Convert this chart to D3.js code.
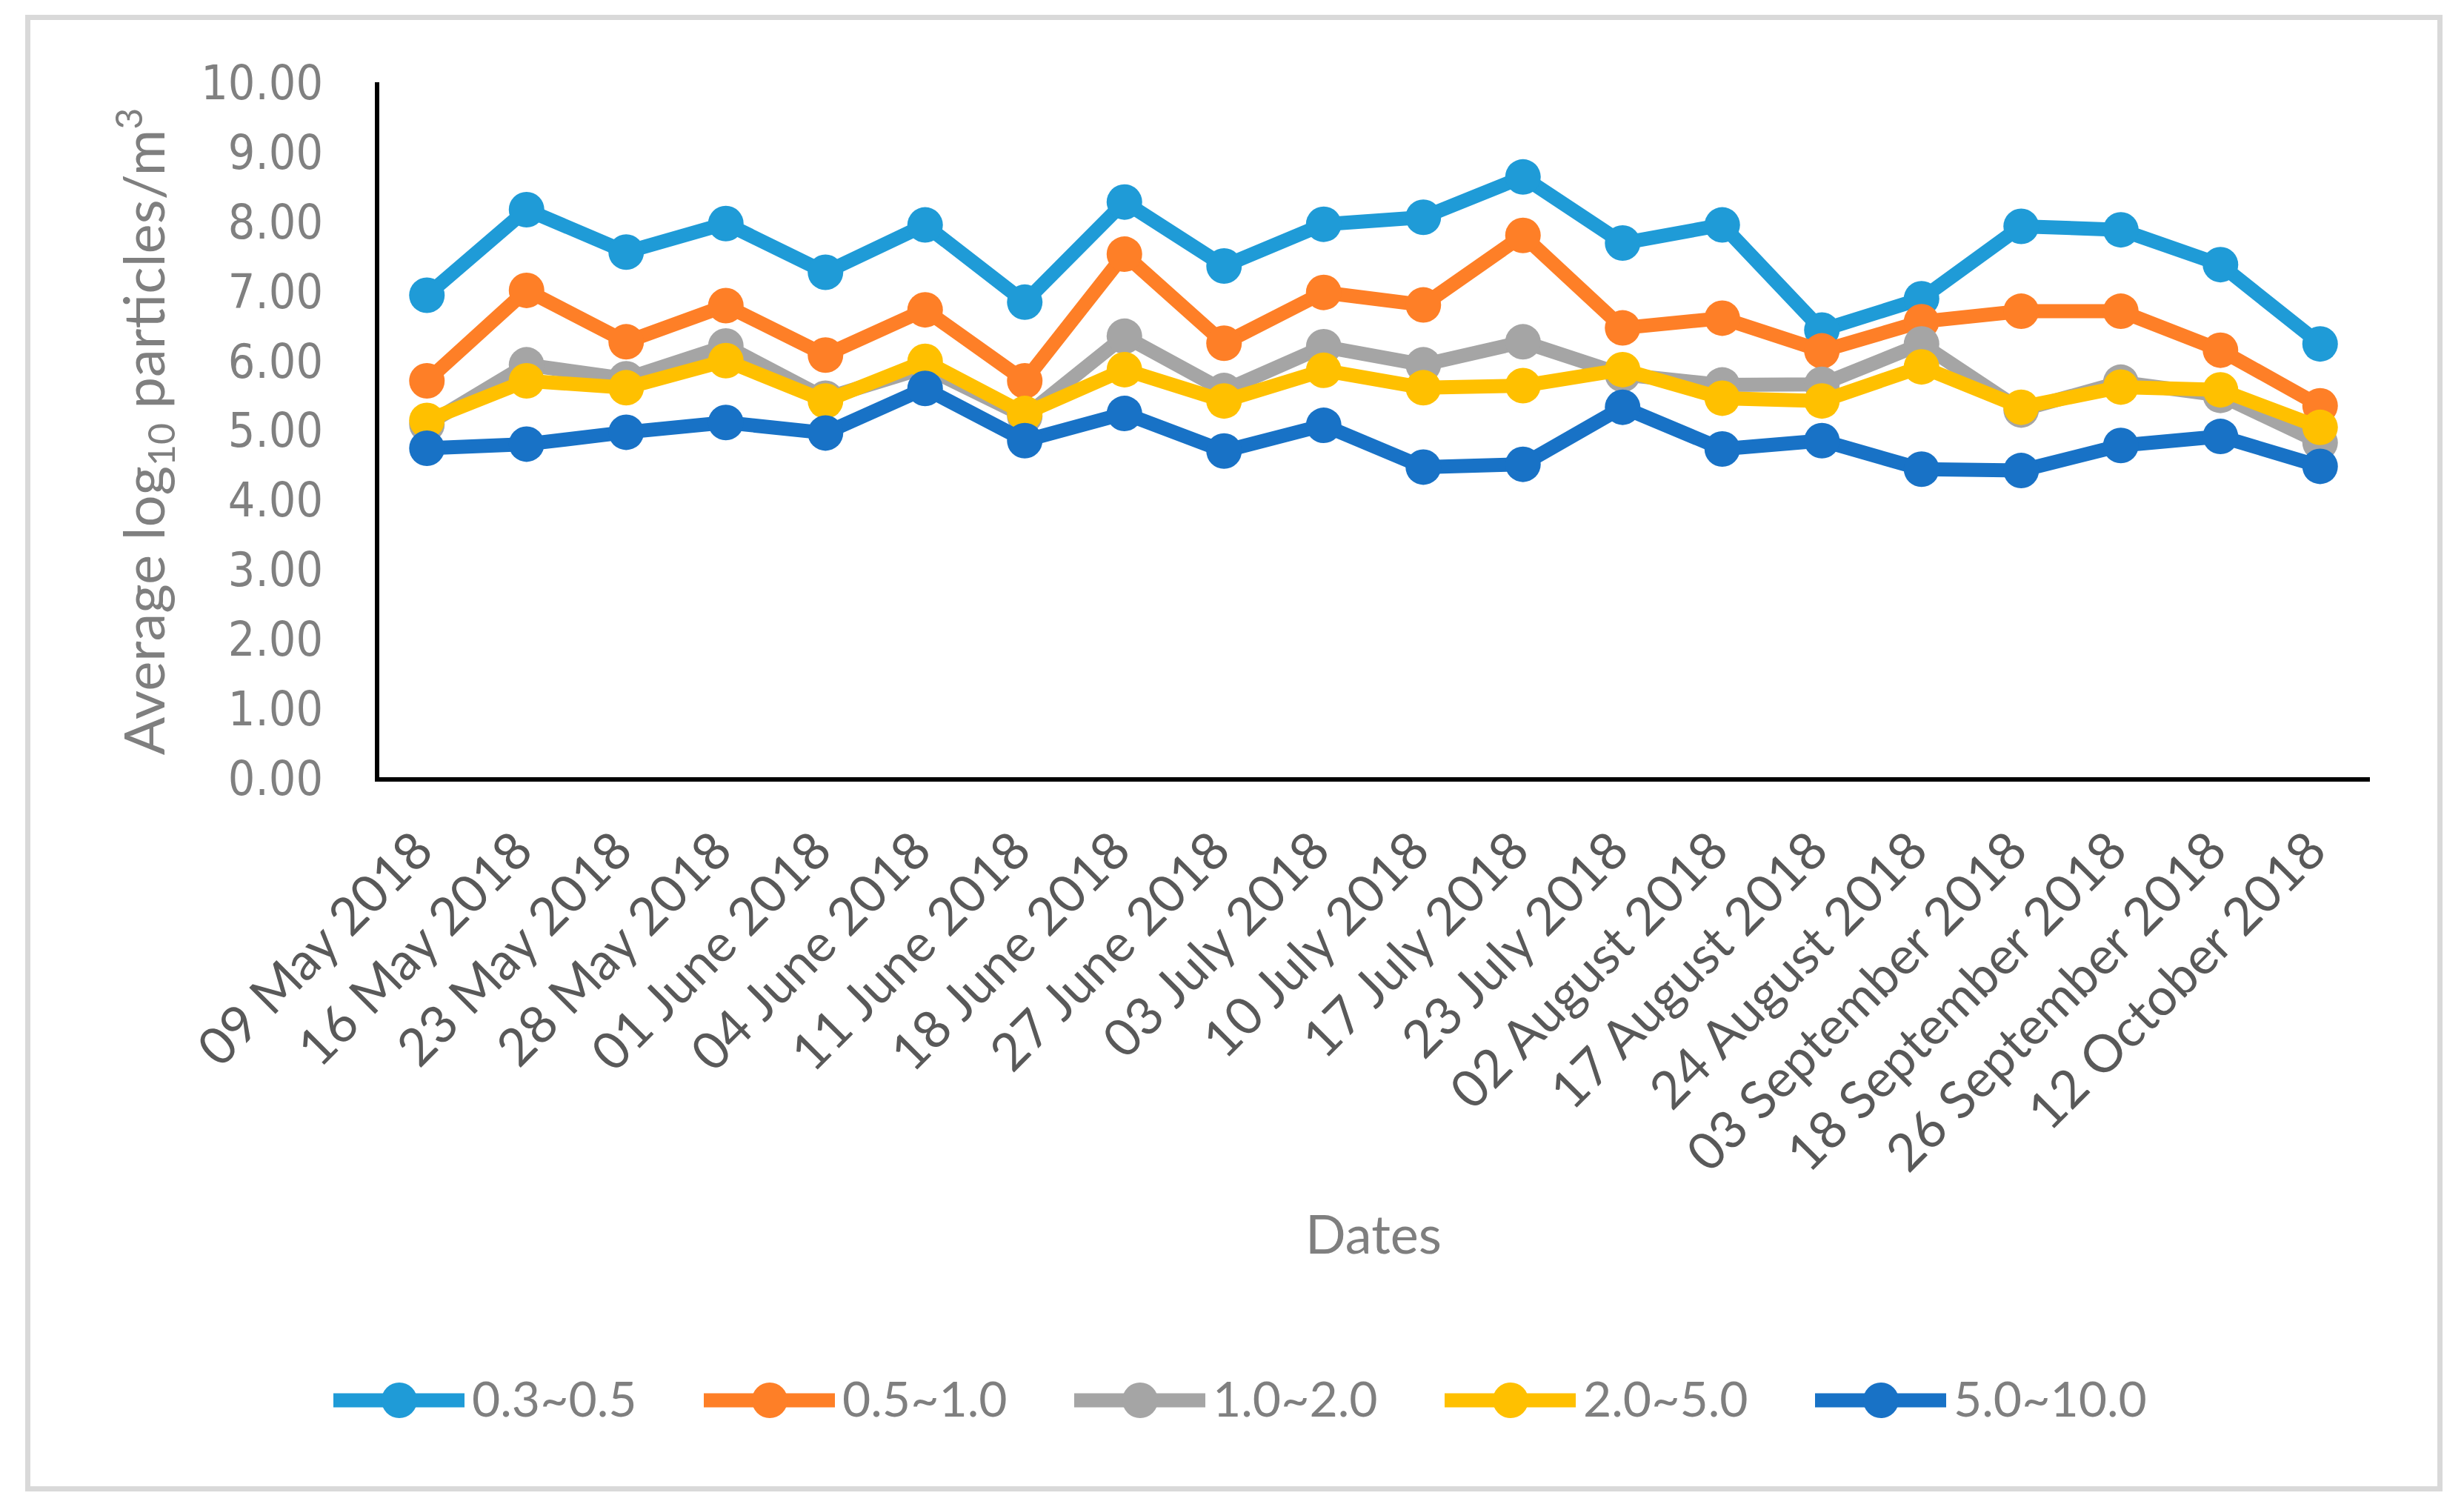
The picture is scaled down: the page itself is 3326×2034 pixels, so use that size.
<!DOCTYPE html>
<html>
<head>
<meta charset="utf-8">
<script src="https://cdn.jsdelivr.net/npm/d3@7/dist/d3.min.js"></script>
<style>
  html, body { margin: 0; padding: 0; background: #fff; }
  svg { display: block; }
</style>
</head>
<body>
<svg id="chart" width="3326" height="2034"></svg>
<script>
// ---- data ----
const dates = ["09 May 2018","16 May 2018","23 May 2018","28 May 2018","01 June 2018","04 June 2018",
  "11 June 2018","18 June 2018","27 June 2018","03 July 2018","10 July 2018","17 July 2018","23 July 2018",
  "02 August 2018","17 August 2018","24 August 2018","03 September 2018","18 September 2018",
  "26 September 2018","12 October 2018"];
const seriesNames = ["0.3~0.5","0.5~1.0","1.0~2.0","2.0~5.0","5.0~10.0"];
const s03_05  = [6.96, 8.19, 7.58, 7.99, 7.29, 7.97, 6.86, 8.30, 7.38, 7.98, 8.08, 8.66, 7.71, 7.97, 6.46, 6.91, 7.95, 7.90, 7.40, 6.26];
const s05_10  = [5.73, 7.03, 6.29, 6.81, 6.10, 6.75, 5.73, 7.55, 6.27, 7.00, 6.82, 7.82, 6.49, 6.63, 6.16, 6.58, 6.73, 6.73, 6.17, 5.37];
const s10_20  = [5.10, 5.96, 5.76, 6.23, 5.48, 5.92, 5.22, 6.37, 5.59, 6.22, 5.96, 6.29, 5.82, 5.67, 5.68, 6.26, 5.31, 5.71, 5.52, 4.84];
const s20_50  = [5.16, 5.73, 5.63, 6.02, 5.44, 6.01, 5.26, 5.89, 5.44, 5.88, 5.63, 5.66, 5.89, 5.48, 5.44, 5.93, 5.35, 5.64, 5.60, 5.06];
const s50_100 = [4.76, 4.82, 4.99, 5.13, 4.98, 5.62, 4.87, 5.26, 4.72, 5.09, 4.49, 4.53, 5.35, 4.75, 4.87, 4.46, 4.44, 4.80, 4.93, 4.50];
const yTicks = [0,1,2,3,4,5,6,7,8,9,10];

const seriesValues = [s03_05, s05_10, s10_20, s20_50, s50_100];
const colors = ["#1F9BD7", "#FE7F27", "#A5A5A5", "#FFC000", "#1872C6"];

// ---- layout ----
const svg = d3.select("#chart");
const plot = { left: 509, right: 3199, top: 113, bottom: 1052 };

svg.append("rect").attr("x", 0).attr("y", 0).attr("width", 3326).attr("height", 2034).attr("fill", "#fff");
// outer border
svg.append("rect").attr("x", 37.5).attr("y", 23.5).attr("width", 3256).attr("height", 1986)
  .attr("fill", "none").attr("stroke", "#D9D9D9").attr("stroke-width", 7);

const x = d3.scaleBand().domain(dates).range([plot.left, plot.right]);
const y = d3.scaleLinear().domain([0, 10]).range([plot.bottom, plot.top]);

// y axis labels
const yAxis = d3.axisLeft(y).tickValues(yTicks).tickFormat(d3.format(".2f")).tickSize(0).tickPadding(73);
const gy = svg.append("g").attr("transform", `translate(${plot.left},0)`).call(yAxis);
gy.select(".domain").remove();
gy.selectAll("text")
  .attr("fill", "#808080")
  .style("font-family", "'DejaVu Sans Condensed','DejaVu Sans',Verdana,sans-serif")
  .style("font-size", "64px");

// x axis labels
const xAxis = d3.axisBottom(x).tickSize(0);
const gx = svg.append("g").attr("transform", `translate(0,${plot.bottom})`).call(xAxis);
gx.select(".domain").remove();
gx.selectAll("text")
  .attr("x", 0).attr("y", 0).attr("dy", 0)
  .attr("transform", "translate(12,100) rotate(-45)")
  .style("text-anchor", "end")
  .attr("fill", "#595959")
  .style("font-family", "Lato, 'Open Sans', sans-serif")
  .style("font-size", "70px");

// axis lines
svg.append("path")
  .attr("d", `M${plot.left},${plot.top - 2} V${plot.bottom} H${plot.right}`)
  .attr("fill", "none").attr("stroke", "#000").attr("stroke-width", 6);

// series
const line = d3.line().x((d, i) => x(dates[i]) + x.bandwidth() / 2).y(d => y(d));
seriesValues.forEach((vals, si) => {
  const g = svg.append("g");
  g.append("path").datum(vals).attr("d", line)
    .attr("fill", "none").attr("stroke", colors[si]).attr("stroke-width", 19)
    .attr("stroke-linejoin", "round");
  g.selectAll("circle").data(vals).join("circle")
    .attr("cx", (d, i) => x(dates[i]) + x.bandwidth() / 2)
    .attr("cy", d => y(d))
    .attr("r", 24)
    .attr("fill", colors[si]);
});

// axis titles
const yTitle = svg.append("text")
  .attr("transform", `translate(222,${(plot.top + plot.bottom) / 2}) rotate(-90)`)
  .attr("text-anchor", "middle")
  .attr("fill", "#7F7F7F")
  .style("font-family", "Lato, 'Open Sans', sans-serif")
  .style("font-size", "76px");
yTitle.append("tspan").text("Average log");
yTitle.append("tspan").text("10").attr("dy", 14).style("font-size", "50px");
yTitle.append("tspan").text(" particles/m").attr("dy", -14);
yTitle.append("tspan").text("3").attr("dy", -30).style("font-size", "50px");

svg.append("text")
  .attr("x", (plot.left + plot.right) / 2).attr("y", 1692)
  .attr("text-anchor", "middle")
  .attr("fill", "#7F7F7F")
  .style("font-family", "Lato, 'Open Sans', sans-serif")
  .style("font-size", "72px")
  .text("Dates");

// legend
const legendX = d3.scalePoint().domain(seriesNames).range([539, 2539]);
const lg = svg.append("g").selectAll("g").data(seriesNames).join("g")
  .attr("transform", d => `translate(${legendX(d)},1890)`);
lg.append("line").attr("x1", -89).attr("x2", 88).attr("y1", 0).attr("y2", 0)
  .attr("stroke", (d, i) => colors[i]).attr("stroke-width", 19);
lg.append("circle").attr("r", 24).attr("fill", (d, i) => colors[i]);
lg.append("text").attr("x", 98).attr("y", 22)
  .attr("fill", "#7F7F7F")
  .style("font-family", "Lato, 'Open Sans', sans-serif")
  .style("font-size", "66px")
  .text(d => d);
</script>
</body>
</html>
